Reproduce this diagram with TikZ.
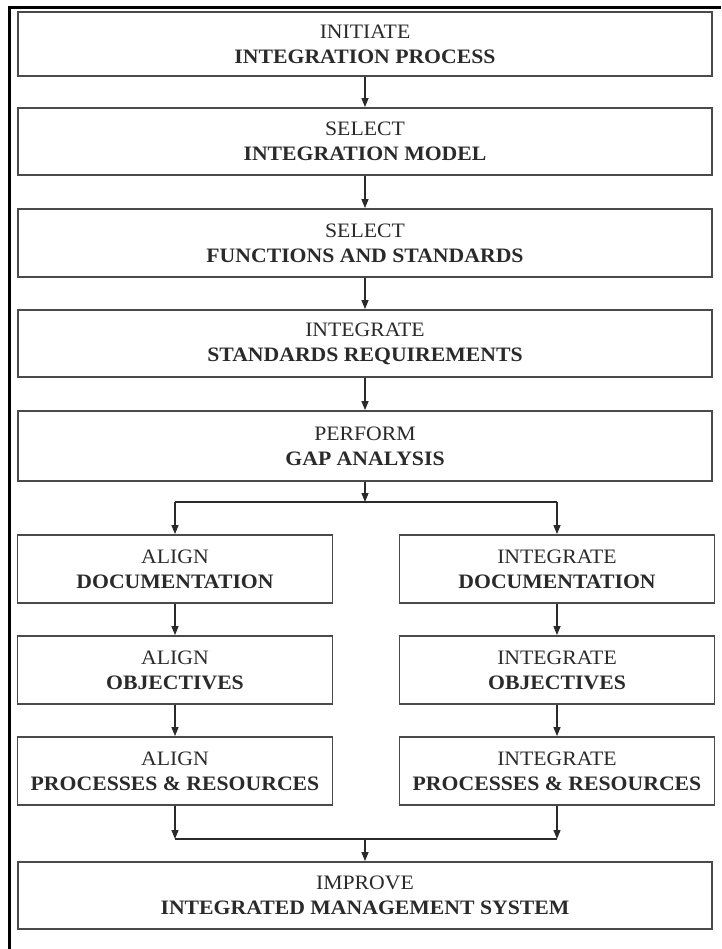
\documentclass[tikz,border=0pt]{standalone}
\usepackage{fontspec}
\setmainfont{Liberation Serif}[FakeStretch=1.06]
\usetikzlibrary{arrows.meta}
\definecolor{edge}{HTML}{4A4A4A}
\definecolor{ink}{HTML}{2A2A2A}
\tikzset{
  box/.style={draw=edge, line width=1.8pt, fill=white, inner sep=0pt, align=center,
    text=ink, font=\fontsize{20.5}{25}\selectfont},
  wide/.style={box, minimum width=694pt},
  col/.style={box, minimum width=315pt, minimum height=68pt},
  link/.style={draw=ink, line width=1.2pt},
  arr/.style={link, -{Triangle[length=9pt,width=7pt]}},
  frame/.style={draw=black, line width=3pt}
}
\begin{document}
\begin{tikzpicture}[x=1pt,y=-1pt]
\useasboundingbox (0,0) rectangle (721,949);
\coordinate (f1) at (721,8);
\coordinate (f2) at (9,8);
\coordinate (f3) at (9,949);
\draw[frame] (f1) -- (f2) -- (f3);

\node[wide, minimum height=64pt] (n1) at (365,44) {INITIATE\\\textbf{INTEGRATION PROCESS}};
\node[wide, minimum height=67pt] (n2) at (365,141.5) {SELECT\\\textbf{INTEGRATION MODEL}};
\node[wide, minimum height=68pt] (n3) at (365,243) {SELECT\\\textbf{FUNCTIONS AND STANDARDS}};
\node[wide, minimum height=67pt] (n4) at (365,343.5) {INTEGRATE\\\textbf{STANDARDS REQUIREMENTS}};
\node[wide, minimum height=70pt] (n5) at (365,446) {PERFORM\\\textbf{GAP ANALYSIS}};

\node[col] (l1) at (175,569) {ALIGN\\\textbf{DOCUMENTATION}};
\node[col] (l2) at (175,670) {ALIGN\\\textbf{OBJECTIVES}};
\node[col] (l3) at (175,771) {ALIGN\\\textbf{PROCESSES \& RESOURCES}};
\node[col] (r1) at (557,569) {INTEGRATE\\\textbf{DOCUMENTATION}};
\node[col] (r2) at (557,670) {INTEGRATE\\\textbf{OBJECTIVES}};
\node[col] (r3) at (557,771) {INTEGRATE\\\textbf{PROCESSES \& RESOURCES}};

\node[wide, minimum height=67pt] (n6) at (365,895.5) {IMPROVE\\\textbf{INTEGRATED MANAGEMENT SYSTEM}};

\draw[arr] (n1) -- (n2);
\draw[arr] (n2) -- (n3);
\draw[arr] (n3) -- (n4);
\draw[arr] (n4) -- (n5);

\coordinate (split) at (365,502);
\draw[arr] (n5.south) -- (split);
\draw[link] (l1.north |- split) -- (r1.north |- split);
\draw[arr] (l1.north |- split) -- (l1.north);
\draw[arr] (r1.north |- split) -- (r1.north);

\draw[arr] (l1) -- (l2);
\draw[arr] (l2) -- (l3);
\draw[arr] (r1) -- (r2);
\draw[arr] (r2) -- (r3);

\coordinate (merge) at (365,839);
\draw[arr] (l3.south) -- (l3.south |- merge);
\draw[arr] (r3.south) -- (r3.south |- merge);
\draw[link] (l3.south |- merge) -- (r3.south |- merge);
\draw[arr] (merge) -- (n6.north);
\end{tikzpicture}
\end{document}
